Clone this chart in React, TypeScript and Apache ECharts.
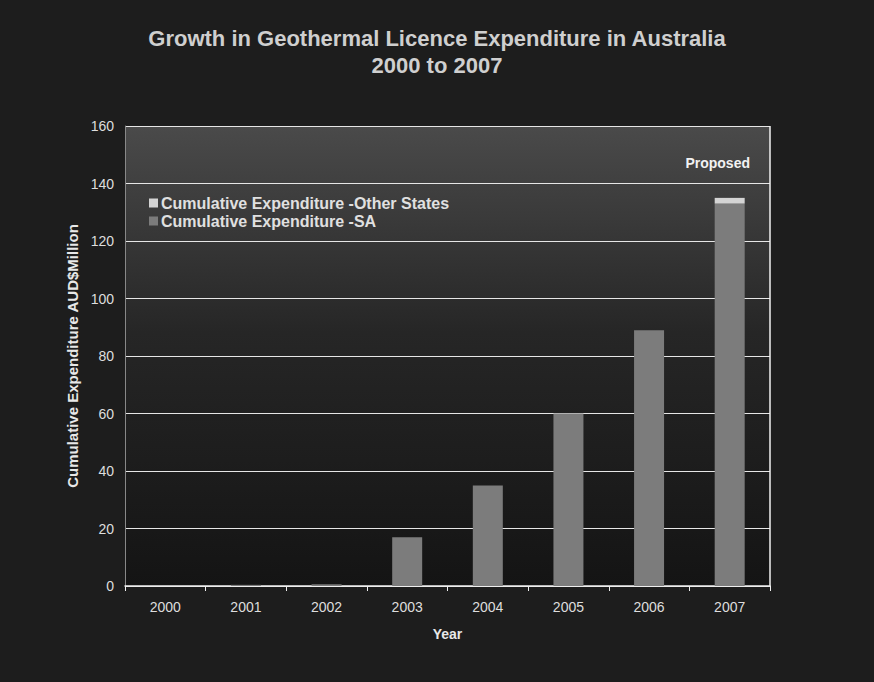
import React, { useEffect, useRef } from "react";
import * as echarts from "echarts";

const years = ["2000", "2001", "2002", "2003", "2004", "2005", "2006", "2007"];
const saValues = [0, 0.4, 0.6, 17, 35, 60, 89, 133];
const otherValues = [0, 0, 0, 0, 0, 0, 0, 2];
const yTicks = { min: 0, max: 160, interval: 20 };

export default function App() {
  const ref = useRef<HTMLDivElement>(null);
  useEffect(() => {
    document.body.style.margin = "0";
    if (!ref.current) return;
    const chart = echarts.init(ref.current, undefined, { renderer: "svg" });
    const font = "Liberation Sans, Arial, sans-serif";
    chart.setOption({
      animation: false,
      backgroundColor: "#1d1d1d",
      title: {
        text: "Growth in Geothermal Licence Expenditure in Australia\n2000 to 2007",
        left: "center",
        top: 20,
        padding: [5, 5, 5, 21],
        textStyle: {
          color: "#cfcfcf",
          fontSize: 22,
          fontWeight: "bold",
          fontFamily: font,
          lineHeight: 27,
          align: "center",
        },
      },
      legend: {
        orient: "vertical",
        left: 144,
        top: 190,
        itemWidth: 9,
        itemHeight: 9,
        itemGap: 2,
        icon: "rect",
        textStyle: { color: "#e0e0e0", fontSize: 16, fontWeight: "bold", fontFamily: font, padding: [0, 0, 0, -2] },
        data: ["Cumulative Expenditure -Other States", "Cumulative Expenditure -SA"],
      },
      grid: { left: 125, right: 104, top: 126, bottom: 96, containLabel: false },
      xAxis: {
        type: "category",
        data: years,
        name: "Year",
        nameLocation: "middle",
        nameGap: 41,
        nameTextStyle: { color: "#e8e8e8", fontSize: 14, fontWeight: "bold", fontFamily: font },
        axisLine: { lineStyle: { color: "#f0f0f0", width: 1.5 } },
        axisTick: { show: true, inside: false, length: 5, lineStyle: { color: "#f0f0f0" } },
        axisLabel: { color: "#dedede", fontSize: 14, fontFamily: font, margin: 14 },
      },
      yAxis: {
        type: "value",
        min: yTicks.min,
        max: yTicks.max,
        interval: yTicks.interval,
        name: "Cumulative Expenditure AUD$Million",
        nameLocation: "middle",
        nameGap: 41,
        nameTextStyle: { color: "#e8e8e8", fontSize: 15, fontWeight: "bold", fontFamily: font },
        axisLine: { show: true, lineStyle: { color: "#888", width: 1 } },
        axisTick: { show: false },
        axisLabel: { color: "#dedede", fontSize: 14, fontFamily: font, margin: 11 },
        splitLine: { show: true, lineStyle: { color: "#e6e6e6", width: 1.2 } },
        splitArea: { show: false },
      },
      graphic: [
        {
          type: "rect",
          z: -10,
          shape: { x: 125, y: 126, width: 645, height: 460 },
          style: {
            fill: new echarts.graphic.LinearGradient(0, 0, 0, 1, [
              { offset: 0, color: "#4a4a4a" },
              { offset: 0.45, color: "#262626" },
              { offset: 1, color: "#141414" },
            ]),
          },
        },
        {
          type: "line",
          z: 10,
          shape: { x1: 770, y1: 126, x2: 770, y2: 586 },
          style: { stroke: "#f0f0f0", lineWidth: 1.5 },
        },
      ],
      series: [
        {
          name: "Cumulative Expenditure -SA",
          type: "bar",
          stack: "total",
          barWidth: 30,
          data: saValues,
          itemStyle: { color: "#7c7c7c" },
        },
        {
          name: "Cumulative Expenditure -Other States",
          type: "bar",
          stack: "total",
          barWidth: 30,
          data: otherValues.map((v, i) =>
            i === years.length - 1
              ? {
                  value: v,
                  label: {
                    show: true,
                    position: "top",
                    distance: 28,
                    offset: [-12, 0],
                    formatter: "Proposed",
                    color: "#f2f2f2",
                    fontSize: 14,
                    fontWeight: "bold",
                    fontFamily: font,
                  },
                }
              : v
          ),
          itemStyle: { color: "#d4d4d4" },
        },
      ],
    });
    return () => chart.dispose();
  }, []);
  return <div ref={ref} style={{ width: 874, height: 682 }} />;
}
